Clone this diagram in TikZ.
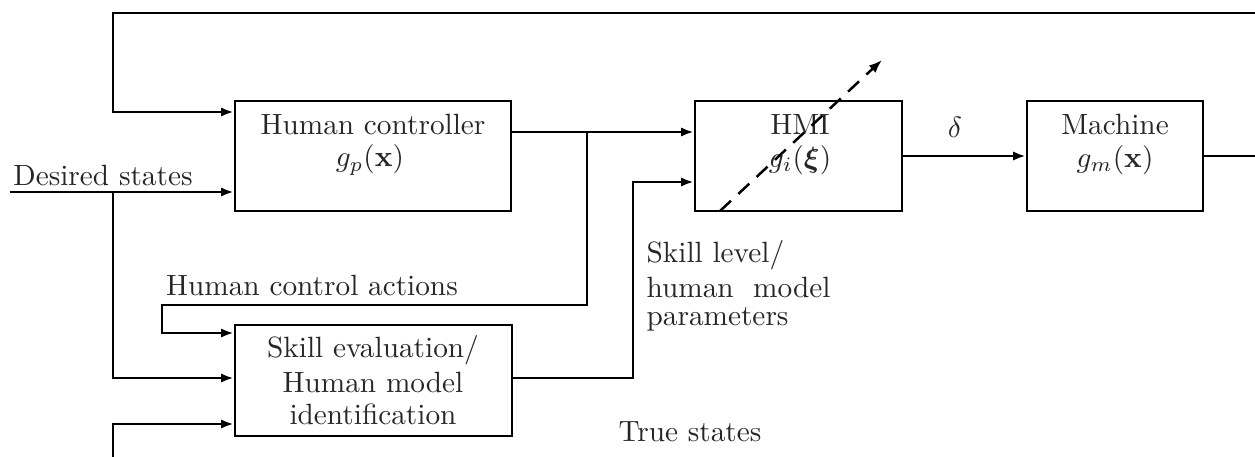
\documentclass[tikz,border=0pt]{standalone}
\usepackage{amsmath,bm}
\usetikzlibrary{arrows.meta}
\begin{document}
\begin{tikzpicture}[x=0.012cm,y=-0.012cm,
  blk/.style={draw, line width=0.85pt, inner sep=0pt},
  txt/.style={inner sep=0pt, text=black!85},
  wire/.style={line width=0.85pt},
  arr/.style={wire, -{Latex[length=1.5mm,width=1.1mm]}},
  hmiarrow/.style={line width=0.85pt, dash pattern=on 1.8mm off 1.2mm, -{Latex[length=1.6mm,width=1.2mm]}}]
\useasboundingbox (0,0) rectangle (1255,457);
\clip (0,0) rectangle (1255,457);

% blocks
\node[blk, minimum width=3.312cm, minimum height=1.32cm] (hc) at (373,156) {};
\node[blk, minimum width=3.324cm, minimum height=1.332cm] (se) at (373.5,380.5) {};
\node[blk, minimum width=2.484cm, minimum height=1.32cm] (hmi) at (798.5,156) {};
\node[blk, minimum width=2.112cm, minimum height=1.32cm] (mach) at (1115,156) {};

% block texts
\node[txt] (hcA) at (373,124) {Human controller};
\node[txt] (hcB) at (370,160) {$g_p(\mathbf{x})$};
\node[txt] (hmiA) at (800,124) {HMI};
\node[txt] (hmiB) at (800,160) {$g_i(\bm{\xi})$};
\node[txt] (machA) at (1115,124) {Machine};
\node[txt] (machB) at (1115,160) {$g_m(\mathbf{x})$};
\node[txt] (seA) at (373,350) {Skill evaluation/};
\node[txt] (seB) at (373,382) {Human model};
\node[txt] (seC) at (373,414) {identification};

% signal labels
\node[txt] (ds) at (103,175) {Desired states};
\node[txt] (hca) at (312,285) {Human control actions};
\node[txt, anchor=west] (slA) at (646,255) {Skill level/};
\node[txt, anchor=west] (slB) at (646,287) {human\ \ model};
\node[txt, anchor=west] (slC) at (646,319) {parameters};
\node[txt] (dl) at (955,127) {$\delta$};
\node[txt] (ts) at (690,432) {True states};

% helper points
\coordinate (dsin) at (10,192);
\coordinate (dsj) at (113,192);
\coordinate (fbR) at (1255,13);
\coordinate (outR) at (1255,156);
\coordinate (hcj) at (587,132);
\coordinate (tsR) at (1255,458);
\coordinate (dA) at (720,211);
\coordinate (dB) at (882,60);

% feedback from the top into the human controller
\draw[arr] (fbR) -- (113,13) |- (hc.west |- 0,112);
% desired states
\draw[arr] (dsin) -- (hc.west |- dsin);
\draw[arr] (dsj) |- (se.west |- 0,378);
% human controller output
\draw[arr] (hc.east |- hcj) -- (hmi.west |- hcj);
\draw[arr] (hcj) -- (587,305) -- (162,305) |- (se.west |- 0,333);
% skill level to HMI
\draw[arr] (se.east |- 0,378) -- (633,378) |- (hmi.west |- 0,182);
% HMI to machine
\draw[arr] (hmi.east) -- (mach.west);
\draw[wire] (mach.east) -- (outR);
% true states
\draw[arr] (tsR) -- (113,458) |- (se.west |- 0,424);
% adaptation of the HMI
\draw[hmiarrow] (dA) -- (dB);
\end{tikzpicture}
\end{document}
